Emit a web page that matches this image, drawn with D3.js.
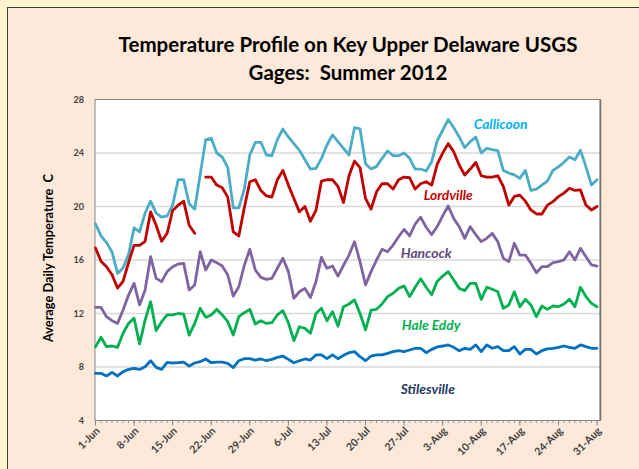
<!DOCTYPE html>
<html>
<head>
<meta charset="utf-8">
<script src="https://cdn.jsdelivr.net/npm/d3@7"></script>
<style>
  html, body { margin: 0; padding: 0; background: #fff2cc; }
  svg { display: block; }
</style>
</head>
<body>
<svg id="chart"></svg>
<script>
// Daily average water temperature (C), 1-Jun to 31-Aug 2012
const startDate = new Date(2012, 5, 1);
const tickLabels = ["1-Jun", "8-Jun", "15-Jun", "22-Jun", "29-Jun", "6-Jul", "13-Jul",
    "20-Jul", "27-Jul", "3-Aug", "10-Aug", "17-Aug", "24-Aug", "31-Aug"];
const yTicks = [4, 8, 12, 16, 20, 24, 28];

const callicoon = [18.7, 17.8, 17.3, 16.6, 15.0, 15.4, 16.4, 18.4, 18.1, 19.5,
    20.4, 19.5, 19.2, 19.3, 20.1, 22.0, 22.0, 20.2, 19.8, 22.4,
    25.0, 25.1, 24.0, 23.7, 22.9, 19.9, 19.9, 21.3, 23.85, 24.8,
    24.8, 23.85, 23.8, 25.0, 25.8, 25.2, 24.7, 24.2, 23.5, 22.8,
    22.85, 23.6, 24.6, 25.35, 24.85, 24.35, 23.85, 25.9, 25.8, 23.2,
    22.8, 23.0, 23.6, 24.15, 23.8, 23.8, 24.0, 23.6, 22.8, 22.8,
    22.65, 23.35, 24.9, 25.7, 26.5, 25.9, 25.2, 24.4, 24.85, 25.2,
    24.0, 24.35, 24.25, 24.17, 22.7, 22.5, 22.36, 22.1, 22.7, 21.2,
    21.3, 21.6, 21.9, 22.7, 22.96, 23.3, 23.7, 23.5, 24.2, 22.96,
    21.6, 22.0];

const lordville = [16.9, 15.9, 15.5, 14.9, 13.9, 14.4, 15.8, 17.1, 17.1, 17.4,
    19.6, 18.6, 17.4, 18.0, 19.7, 20.1, 20.4, 18.6, 18.0, null,
    22.2, 22.2, 21.6, 21.4, 20.7, 18.1, 17.8, 19.9, 21.85, 22.0,
    21.2, 20.8, 20.7, 22.0, 22.7, 21.6, 20.6, 19.6, 20.0, 18.9,
    19.7, 21.9, 22.0, 22.0, 21.5, 20.3, 22.3, 23.4, 22.9, 20.6,
    19.8, 21.1, 21.7, 21.7, 21.3, 22.0, 22.2, 22.15, 21.3, 21.7,
    21.85, 21.6, 23.15, 24.0, 24.7, 24.1, 23.1, 22.35, 22.8, 23.3,
    22.3, 22.2, 22.2, 22.3, 21.5, 20.1, 20.75, 20.85, 20.4, 19.74,
    19.44, 19.44, 20.1, 20.36, 20.74, 21.0, 21.36, 21.2, 21.24, 20.1,
    19.74, 20.0];

const hancock = [12.46, 12.46, 11.76, 11.46, 11.26, 12.26, 13.38, 14.25, 12.64, 13.76,
    16.25, 14.63, 14.38, 15.13, 15.5, 15.7, 15.75, 13.76, 14.13, 16.62,
    15.25, 16.0, 15.8, 15.55, 14.88, 13.3, 14.0, 15.6, 16.8, 15.25,
    14.7, 14.55, 14.63, 15.38, 16.13, 15.13, 13.13, 13.63, 13.88, 13.2,
    14.38, 16.2, 15.38, 15.55, 14.8, 15.6, 16.37, 17.37, 15.88, 14.13,
    15.13, 16.0, 16.8, 16.62, 17.12, 17.74, 18.29, 17.8, 18.69, 19.2,
    18.45, 17.9, 18.5, 19.3, 20.04, 19.1, 18.49, 17.62, 18.49, 17.9,
    17.37, 17.62, 17.99, 17.37, 16.12, 15.88, 17.25, 16.37, 16.37, 15.75,
    15.05, 15.5, 15.5, 15.8, 15.88, 16.0, 16.62, 16.0, 16.87, 16.25,
    15.63, 15.55];

const haleEddy = [9.52, 10.22, 9.52, 9.57, 9.47, 10.52, 11.26, 11.64, 9.72, 11.5,
    12.88, 10.72, 11.39, 11.89, 11.89, 12.0, 11.96, 10.39, 11.26, 12.39,
    11.71, 11.89, 12.31, 11.89, 11.39, 10.39, 11.76, 12.06, 12.31, 11.21,
    11.46, 11.26, 11.31, 11.89, 12.21, 11.31, 9.97, 11.01, 10.89, 10.52,
    12.0, 12.39, 11.46, 12.13, 11.06, 12.51, 12.71, 13.01, 12.0, 10.77,
    12.26, 12.31, 12.71, 13.26, 13.51, 13.88, 14.06, 13.26, 13.96, 14.6,
    13.96, 13.4, 14.4, 14.8, 15.13, 14.5, 13.88, 13.71, 14.25, 14.25,
    13.06, 13.96, 13.81, 13.63, 12.39, 12.64, 13.63, 12.51, 13.06, 12.64,
    11.76, 12.56, 12.31, 12.56, 12.51, 12.71, 13.06, 12.51, 13.96, 13.26,
    12.76, 12.51];

const stilesville = [7.53, 7.53, 7.33, 7.6, 7.33, 7.65, 7.82, 7.9, 7.82, 8.02,
    8.47, 7.97, 7.82, 8.35, 8.3, 8.32, 8.37, 8.07, 8.3, 8.4,
    8.6, 8.32, 8.37, 8.37, 8.27, 7.95, 8.47, 8.62, 8.62, 8.52,
    8.6, 8.47, 8.57, 8.72, 8.82, 8.57, 8.32, 8.47, 8.6, 8.52,
    8.9, 8.9, 8.62, 8.9, 8.62, 8.87, 9.07, 9.15, 8.77, 8.47,
    8.82, 8.9, 8.9, 9.02, 9.15, 9.22, 9.15, 9.27, 9.4, 9.4,
    9.07, 9.32, 9.5, 9.57, 9.65, 9.47, 9.22, 9.4, 9.32, 9.65,
    9.15, 9.65, 9.4, 9.52, 9.22, 9.22, 9.52, 8.97, 9.32, 9.32,
    8.97, 9.22, 9.35, 9.4, 9.47, 9.57, 9.47, 9.4, 9.65, 9.52,
    9.4, 9.4];

const seriesNames = ["Callicoon", "Lordville", "Hancock", "Hale Eddy", "Stilesville"];
const seriesValues = [callicoon, lordville, hancock, haleEddy, stilesville];

// styling: line colour, label colour, label anchor (day index, temperature)
const styles = [
    {line: "#4bacc6", text: "#00b0f0", day: 73.5, temp: 25.8},
    {line: "#c00000", text: "#c00000", day: 64.0, temp: 20.5},
    {line: "#8064a2", text: "#604a7b", day: 60.0, temp: 16.15},
    {line: "#00b050", text: "#00b050", day: 60.9, temp: 10.8},
    {line: "#0070c0", text: "#1f3864", day: 60.3, temp: 6.0}
];

const W = 639, H = 469;
const plot = {left: 95, right: 600, top: 99.5, bottom: 420.5};
const font = "Lato, 'Open Sans', sans-serif";

const svg = d3.select("#chart").attr("width", W).attr("height", H);

// Background panels
svg.append("rect").attr("width", W).attr("height", H).attr("fill", "#fff2cc");
svg.append("rect")
    .attr("x", 7.5).attr("y", 7.5)
    .attr("width", 700).attr("height", 600)
    .attr("fill", "#fde9d9")
    .attr("stroke", "#3f3f3f");

svg.append("rect")
    .attr("x", plot.left).attr("y", plot.top)
    .attr("width", plot.right - plot.left).attr("height", plot.bottom - plot.top)
    .attr("fill", "#ffffff");

const dayToDate = i => d3.timeDay.offset(startDate, i);

const x = d3.scaleTime()
    .domain([startDate, dayToDate(91)])
    .range([95.5, 597]);

const y = d3.scaleLinear()
    .domain([4, 28])
    .range([plot.bottom, plot.top]);

// Gridlines
svg.append("g")
    .selectAll("line")
    .data(yTicks.filter(t => t > 4 && t < 28))
    .join("line")
    .attr("x1", plot.left).attr("x2", plot.right)
    .attr("y1", d => y(d)).attr("y2", d => y(d))
    .attr("stroke", "#d9d9d9")
    .attr("stroke-width", 1.6);

// Plot border
svg.append("rect")
    .attr("x", plot.left).attr("y", plot.top)
    .attr("width", plot.right - plot.left).attr("height", plot.bottom - plot.top)
    .attr("fill", "none")
    .attr("stroke", "#868686");
svg.append("line")
    .attr("x1", plot.right + 0.5).attr("x2", plot.right + 0.5)
    .attr("y1", plot.top).attr("y2", plot.bottom)
    .attr("stroke", "#6f6f6f").attr("stroke-width", 1.5);

// Lines
const line = d3.line()
    .defined(d => d[1] !== null)
    .x(d => x(dayToDate(d[0])))
    .y(d => y(d[1]));

seriesValues.forEach((vals, k) => {
    svg.append("path")
        .datum(vals.map((v, i) => [i, v]))
        .attr("d", line)
        .attr("fill", "none")
        .attr("stroke", styles[k].line)
        .attr("stroke-width", 2.8)
        .attr("stroke-linejoin", "round")
        .attr("stroke-linecap", "round");
});

// Series labels
const dayWidth = x(dayToDate(1)) - x(dayToDate(0));
seriesNames.forEach((name, k) => {
    svg.append("text")
        .attr("x", x(startDate) + dayWidth * styles[k].day)
        .attr("y", y(styles[k].temp))
        .attr("text-anchor", "middle")
        .attr("font-family", font)
        .attr("font-size", 13.8)
        .attr("font-weight", "bold")
        .attr("font-style", "italic")
        .attr("fill", styles[k].text)
        .text(name);
});

// X axis with daily minor ticks
const xAxis = svg.append("g")
    .attr("transform", `translate(0,${plot.bottom})`);

xAxis.selectAll("line.minor")
    .data(d3.range(0, 92))
    .join("line")
    .attr("class", "minor")
    .attr("x1", d => x(dayToDate(d))).attr("x2", d => x(dayToDate(d)))
    .attr("y1", 0).attr("y2", 2.5)
    .attr("stroke", "#9a9a9a");

xAxis.selectAll("line.major")
    .data(tickLabels)
    .join("line")
    .attr("class", "major")
    .attr("x1", (d, i) => x(dayToDate(i * 7))).attr("x2", (d, i) => x(dayToDate(i * 7)))
    .attr("y1", 0).attr("y2", 5)
    .attr("stroke", "#868686");

xAxis.selectAll("text")
    .data(tickLabels)
    .join("text")
    .attr("transform", (d, i) => `translate(${x(dayToDate(i * 7)) + 5},${11}) rotate(-45)`)
    .attr("text-anchor", "end")
    .attr("font-family", font)
    .attr("font-size", 10.5)
    .attr("font-weight", "bold")
    .attr("fill", "#404040")
    .text(d => d);

// Y axis labels
svg.append("g")
    .selectAll("text")
    .data(yTicks)
    .join("text")
    .attr("x", 84)
    .attr("y", d => y(d) + 3)
    .attr("text-anchor", "end")
    .attr("font-family", font)
    .attr("font-size", 9)
    .attr("font-weight", "bold")
    .attr("fill", "#404040")
    .text(d => d);

svg.append("text")
    .attr("transform", `translate(53,${(plot.top + plot.bottom) / 2 - 2}) rotate(-90)`)
    .attr("text-anchor", "middle")
    .attr("font-family", font)
    .attr("font-size", 12.8)
    .attr("font-weight", "bold")
    .attr("fill", "#000")
    .attr("xml:space", "preserve")
    .text("Average Daily Temperature  C");

// Title
const title = svg.append("text")
    .attr("text-anchor", "middle")
    .attr("font-family", font)
    .attr("font-size", 20.5)
    .attr("font-weight", "bold")
    .attr("fill", "#000");
title.append("tspan").attr("x", 348).attr("y", 52)
    .text("Temperature Profile on Key Upper Delaware USGS");
title.append("tspan").attr("x", 348).attr("y", 80)
    .attr("xml:space", "preserve")
    .text("Gages:  Summer 2012");
</script>
</body>
</html>
